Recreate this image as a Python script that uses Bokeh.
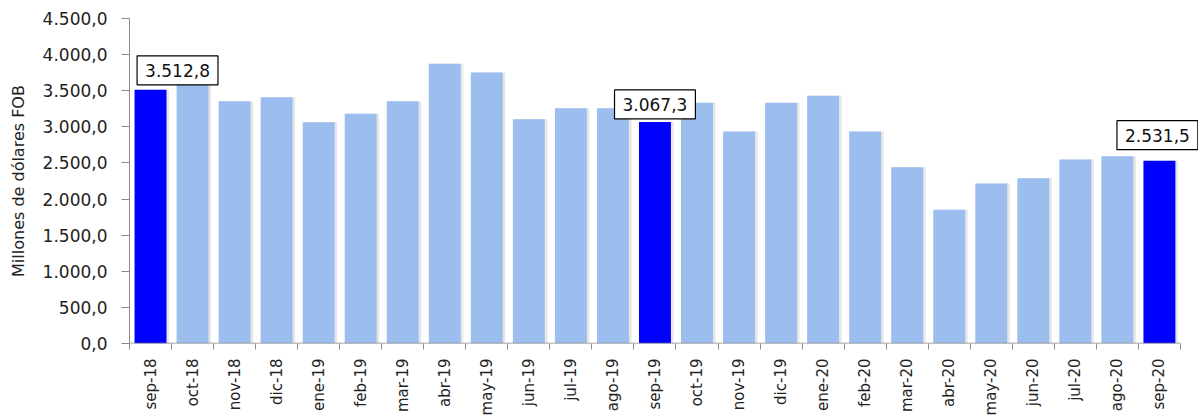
import math
from bokeh.plotting import figure
from bokeh.models import Range1d, FixedTicker, Label, ColumnDataSource
from bokeh.embed import file_html
from bokeh.resources import INLINE

months = ["sep-18", "oct-18", "nov-18", "dic-18", "ene-19", "feb-19", "mar-19",
          "abr-19", "may-19", "jun-19", "jul-19", "ago-19", "sep-19", "oct-19",
          "nov-19", "dic-19", "ene-20", "feb-20", "mar-20", "abr-20", "may-20",
          "jun-20", "jul-20", "ago-20", "sep-20"]
values = [3512.8, 3620.0, 3355.0, 3411.0, 3064.0, 3180.0, 3355.0,
          3872.0, 3752.0, 3106.0, 3258.0, 3258.0, 3067.3, 3332.0,
          2935.0, 3332.0, 3429.0, 2935.0, 2441.0, 1851.0, 2215.0,
          2289.0, 2548.0, 2594.0, 2531.5]
highlighted = ["sep-18", "sep-19", "sep-20"]
y_ticks = [0, 500, 1000, 1500, 2000, 2500, 3000, 3500, 4000, 4500]

LIGHT = "#9BBEEE"
DARK = "#0000FF"
AXIS = "#8C8C8C"
TEXT = "#222222"
FONT = "DejaVu Sans"


def fmt(v):
    s = f"{v:,.1f}"
    return s.replace(",", "X").replace(".", ",").replace("X", ".")


n = len(months)
centers = [i + 0.5 for i in range(n)]
colors = [DARK if m in highlighted else LIGHT for m in months]
src = ColumnDataSource(dict(x=centers, top=values, color=colors,
                            xs=[c + 0.06 for c in centers]))

# extra room on the right (in category units) so the last label box is not clipped
right_room = 0.43

p = figure(frame_width=1069, frame_height=325,
           min_border_left=129, min_border_right=0, min_border_top=18,
           min_border_bottom=5,
           x_range=Range1d(0, n + right_room), y_range=Range1d(0, 4500),
           output_backend="svg", toolbar_location=None)
p.outline_line_color = None
p.background_fill_color = "white"
p.border_fill_color = "white"
p.grid.visible = False

# subtle shadow
p.vbar(x="xs", top="top", width=0.76, bottom=0, source=src,
       fill_color="#C8C8C8", fill_alpha=0.45, line_color=None)
p.vbar(x="x", top="top", width=0.76, bottom=0, source=src,
       fill_color="color", line_color=None)

# x axis line only across the categories
p.segment(x0=[0], y0=[0], x1=[n], y1=[0], line_color=AXIS, line_width=1.5)

xa = p.xaxis[0]
xa.ticker = FixedTicker(ticks=centers, minor_ticks=list(range(n + 1)))
xa.major_label_overrides = {c: m for c, m in zip(centers, months)}
xa.major_tick_line_color = None
xa.major_tick_out = 0
xa.major_tick_in = 0
xa.minor_tick_out = 6
xa.minor_tick_in = 0
xa.minor_tick_line_color = AXIS
xa.axis_line_color = None
xa.major_label_orientation = math.pi / 2
xa.major_label_text_font = FONT
xa.major_label_text_font_size = "15px"
xa.major_label_text_color = TEXT
xa.major_label_standoff = 9

# y axis
ya = p.yaxis[0]
ya.ticker = FixedTicker(ticks=y_ticks)
ya.major_label_overrides = {t: fmt(t) for t in y_ticks}
ya.minor_tick_line_color = None
ya.major_tick_out = 8
ya.major_tick_in = 0
ya.major_tick_line_color = AXIS
ya.axis_line_color = AXIS
ya.major_label_text_font = FONT
ya.major_label_text_font_size = "17px"
ya.major_label_text_color = TEXT
ya.major_label_standoff = 14
ya.axis_label = "Millones de dólares FOB"
ya.axis_label_text_font = FONT
ya.axis_label_text_font_size = "16px"
ya.axis_label_text_font_style = "normal"
ya.axis_label_text_color = TEXT
ya.axis_label_standoff = 12

# value labels for highlighted bars
label_offsets = {"sep-18": (27, 5), "sep-19": (0, 3), "sep-20": (-2, 11)}
for m in highlighted:
    i = months.index(m)
    dx, dy = label_offsets[m]
    p.add_layout(Label(x=centers[i], y=values[i], text=fmt(values[i]),
                       x_offset=dx, y_offset=dy,
                       text_align="center", text_baseline="bottom",
                       text_font=FONT, text_font_size="17px", text_color="#111111",
                       background_fill_color="white",
                       border_line_color="black", border_line_width=1.2,
                       padding=(8, 8)))

open("out.html", "w").write(file_html(p, INLINE))
